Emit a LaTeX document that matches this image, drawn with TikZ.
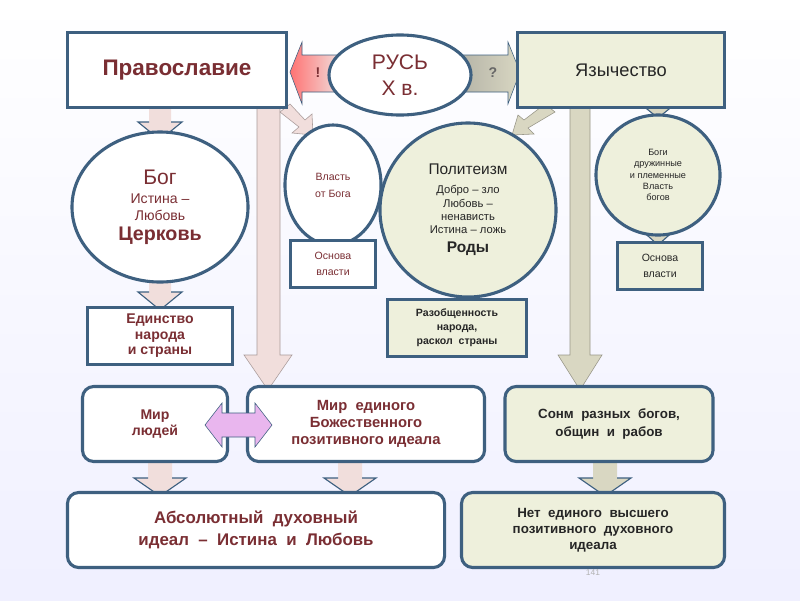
\documentclass[tikz,border=0pt]{standalone}
\usepackage{fontspec}
\setmainfont{Liberation Sans}
\usetikzlibrary{shapes.geometric,shapes.arrows}
\definecolor{frame}{HTML}{3E6080}
\definecolor{wine}{HTML}{7A2E33}
\definecolor{pale}{HTML}{EEF0DC}
\definecolor{rose}{HTML}{F1DEDC}
\definecolor{sand}{HTML}{D9D7C2}
\definecolor{lilac}{HTML}{E9B6EE}
\newcommand{\downblk}[6]{% x, ytop, ybot, half shaft, half head, fill
  \fill[#6] (#1-#4,#2) -- (#1+#4,#2) -- (#1+#4,#3-18) -- (#1+#5,#3-18) -- (#1,#3) -- (#1-#5,#3-18) -- (#1-#4,#3-18) -- cycle;
  \draw[frame, thick] (#1+#4,#3-18) -- (#1+#5,#3-18) -- (#1,#3) -- (#1-#5,#3-18) -- (#1-#4,#3-18);}
\begin{document}
\begin{tikzpicture}[x=0.025cm,y=-0.025cm,
  sz/.style 2 args={minimum width=#1*0.7113pt, minimum height=#2*0.7113pt},
  box/.style={draw=frame, line width=2.2pt, fill=white, inner sep=1pt, align=center, text=wine},
  gbox/.style={box, fill=pale, text=black!85},
  oval/.style={ellipse, draw=frame, line width=2.2pt, fill=white, inner sep=0pt, align=center, text=wine},
  goval/.style={oval, fill=pale, text=black!85},
  rbox/.style={box, rounded corners=8pt},
  grbox/.style={gbox, rounded corners=8pt},
  big/.style={fill=#1, draw=#1!70!black, thin}]

  % background
  \shade[top color=white, bottom color=blue!6] (0,0) rectangle (800,600);
  \useasboundingbox (0,0) rectangle (800,600);

  % long arrows
  \fill[big=rose] (257,107) -- (280,107) -- (280,355) -- (292,355) -- (268,390) -- (244,355) -- (257,355) -- cycle;
  \fill[big=sand] (570,107) -- (590,107) -- (590,355) -- (602,355) -- (580,390) -- (558,355) -- (570,355) -- cycle;
  \fill[big=rose] (280,112) -- (290,104) -- (305,120) -- (312,114) -- (313,135) -- (292,133) -- (299,127) -- cycle;
  \fill[big=sand] (545,104) -- (555,112) -- (528,128) -- (534,134) -- (512,135) -- (518,115) -- (524,120) -- cycle;

  % short arrows
  \downblk{160}{107}{140}{11}{22}{rose}
  \downblk{160}{282}{310}{11}{22}{rose}
  \downblk{333}{244}{242}{9}{18}{rose}
  \downblk{463}{290}{302}{11}{22}{sand}
  \downblk{658}{107}{118}{11}{22}{sand}
  \downblk{658}{232}{245}{10}{20}{sand}
  \downblk{160}{462}{496}{12}{26}{rose}
  \downblk{350}{462}{496}{12}{26}{rose}
  \downblk{605}{462}{496}{12}{26}{sand}

  % side arrows of the centre
  \shade[left color=red!55, right color=rose, draw=frame] (290,72) -- (302,42) -- (302,55) -- (340,55) -- (340,92) -- (302,92) -- (302,104) -- cycle;
  \shade[left color=sand!60!gray, right color=sand, draw=frame] (520,72) -- (508,42) -- (508,55) -- (460,55) -- (460,92) -- (508,92) -- (508,104) -- cycle;
  \node[font=\bfseries, text=wine] (excl) at (318,73) {!};
  \node[font=\bfseries, text=black!60] (quest) at (493,73) {?};

  % top row
  \node[box, sz={219}{75}, font=\bfseries\fontsize{16}{18}\selectfont] (orth) at (177,70) {Православие};
  \node[gbox, sz={207}{75}, font=\fontsize{13}{15}\selectfont] (pagan) at (621,70) {Язычество};
  \node[oval, sz={142}{80}, font=\fontsize{15}{19}\selectfont] (rus) at (400,75) {РУСЬ\\Х в.};

  % second row
  \node[oval, sz={176}{150}, font=\fontsize{10}{12}\selectfont] (god) at (160,207)
    {{\fontsize{15}{17}\selectfont Бог}\\[2pt]Истина –\\Любовь\\[2pt]{\bfseries\fontsize{14}{17}\selectfont Церковь}};
  \node[oval, sz={96}{120}, font=\fontsize{7.5}{12}\selectfont] (power) at (333,185) {Власть\\от Бога};
  \node[box, sz={85}{47}, font=\fontsize{7.5}{11}\selectfont] (base1) at (333,264) {Основа\\власти};
  \node[goval, sz={176}{174}, font=\fontsize{8}{9.5}\selectfont] (poly) at (468,210)
    {{\fontsize{11}{13}\selectfont Политеизм}\\[4pt]Добро – зло\\Любовь –\\ненависть\\Истина – ложь\\[4pt]{\bfseries\fontsize{11}{13}\selectfont Роды}};
  \node[goval, sz={124}{120}, font=\fontsize{6.5}{8}\selectfont] (gods) at (658,175) {Боги\\дружинные\\и племенные\\Власть\\богов};
  \node[gbox, sz={85}{47}, font=\fontsize{7.5}{11}\selectfont] (base2) at (660,266) {Основа\\власти};
  \node[box, sz={145}{57}, font=\bfseries\fontsize{10}{11}\selectfont] (unity) at (160,336) {Единство\\народа\\и страны};
  \node[gbox, sz={139}{57}, font=\bfseries\fontsize{7.5}{10}\selectfont] (split) at (457,328) {Разобщенность\\народа,\\раскол\ \ страны};

  % third row
  \node[rbox, sz={145}{75}, font=\bfseries\fontsize{10}{12}\selectfont] (people) at (155,424) {Мир\\людей};
  \node[rbox, sz={237}{75}, font=\bfseries\fontsize{10.5}{12}\selectfont] (divine) at (366,424) {Мир\ \ единого\\Божественного\\позитивного идеала};
  \node[grbox, sz={208}{75}, font=\bfseries\fontsize{9.5}{12.5}\selectfont] (host) at (609,424) {Сонм\ \ разных\ \ богов,\\общин\ \ и\ \ рабов};
  \filldraw[fill=lilac, draw=frame] (205,425) -- (222,403) -- (222,413) -- (255,413) -- (255,403) -- (272,425)
    -- (255,447) -- (255,437) -- (222,437) -- (222,447) -- cycle;

  % bottom row
  \node[rbox, sz={377}{75}, font=\bfseries\fontsize{12}{16}\selectfont] (ideal) at (256,530) {Абсолютный\ \ духовный\\идеал\ \ –\ \ Истина\ \ и\ \ Любовь};
  \node[grbox, sz={263}{75}, font=\bfseries\fontsize{9.5}{11.5}\selectfont] (none) at (593,530) {Нет\ \ единого\ \ высшего\\позитивного\ \ духовного\\идеала};
  \node[font=\fontsize{6}{7}\selectfont, text=black!30] (page) at (593,573) {141};
\end{tikzpicture}
\end{document}
